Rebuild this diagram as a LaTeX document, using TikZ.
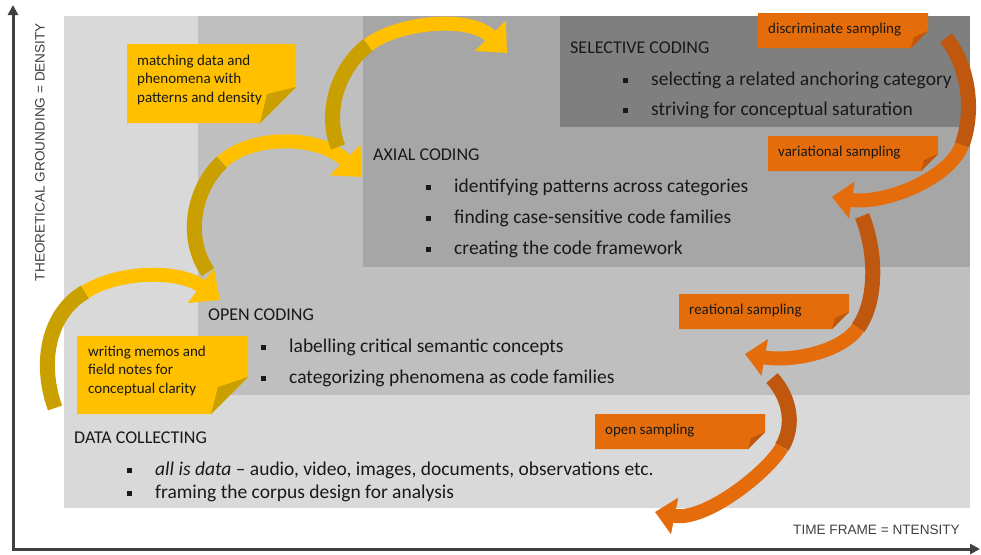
\documentclass[tikz,border=0pt]{standalone}
\usepackage{fontspec}
\setmainfont{Carlito}
\newfontfamily\axisfont{Liberation Sans}
\usepackage{xcolor}
\usepackage{tikz}
\usetikzlibrary{arrows.meta,positioning}

\definecolor{datagray}{HTML}{D9D9D9}
\definecolor{opengray}{HTML}{BFBFBF}
\definecolor{axialgray}{HTML}{A6A6A6}
\definecolor{selgray}{HTML}{7F7F7F}
\definecolor{axisgray}{HTML}{404040}
\definecolor{noteyellow}{HTML}{FFC000}
\definecolor{darkyellow}{HTML}{C9A000}
\definecolor{noteorange}{HTML}{E46C0A}
\definecolor{darkorange}{HTML}{BF570E}

\newcommand{\sqb}{\rule[2pt]{5pt}{5pt}\hspace{23pt}}
\newcommand{\samplenote}[4]{%
	\begin{scope}[shift={(#2,#3)}]
		\fill[noteorange] (0,0) -- (170,0) -- (170,18) -- (153,35) -- (0,35) -- cycle;
		\fill[darkorange] (170,18) -- (156,24) -- (153,35) -- cycle;
		\node[onote] (#1) at (10,20) {#4};
	\end{scope}}

\begin{document}
\begin{tikzpicture}[x=1pt,y=-1pt]
				\tikzstyle{phasehead}=[anchor=base west, inner sep=0pt, text=black!90, font=\fontsize{18}{22}\selectfont]
				\tikzstyle{phaseitem}=[phasehead, font=\fontsize{19.5}{23}\selectfont]
				\tikzstyle{ynote}=[anchor=north west, inner sep=0pt, align=left, text=black!90, font=\fontsize{15}{18.3}\selectfont]
				\tikzstyle{onote}=[anchor=base west, inner sep=0pt, text=black!90, font=\fontsize{15}{18}\selectfont]
				\tikzstyle{axisline}=[axisgray, line width=3pt, {Triangle[width=10pt,length=10pt]}-{Triangle[width=10pt,length=10pt]}]
				\tikzstyle{axislabel}=[inner sep=0pt, text=axisgray, font=\axisfont\fontsize{13.6}{16}\selectfont]
				\tikzstyle{ytail}=[darkyellow, line width=15pt]
				\tikzstyle{yarrow}=[noteyellow, line width=14pt, -{Triangle[width=42pt,length=24pt]}]
				\tikzstyle{otail}=[darkorange, line width=15pt]
				\tikzstyle{oarrow}=[noteorange, line width=14pt, -{Triangle[width=36pt,length=20pt]}]
				\useasboundingbox (0,0) rectangle (981,554);
				% coding levels
				\fill[datagray] (64,16) rectangle (970,508);
				\fill[opengray] (198,16) rectangle (970,395);
				\fill[axialgray] (363,16) rectangle (970,267);
				\fill[selgray] (560,16) rectangle (970,127);
				% axes
				\coordinate (ytop) at (13,5);
				\coordinate (origin) at (13,549);
				\coordinate (xend) at (980,549);
				\draw[axisline] (ytop) -- (origin) -- (xend);
				\node[axislabel, rotate=90] (ylabel) at (40,152) {THEORETICAL GROUNDING = DENSITY};
				\node[axislabel, anchor=base east] (xlabel) at (960,534) {TIME FRAME = NTENSITY};
				% texts
				\node[phasehead] (selective) at (570,53) {SELECTIVE CODING};
				\node[phaseitem] (sel1) at (623,85) {\sqb selecting a related anchoring category};
				\node[phaseitem] (sel2) at (623,115) {\sqb striving for conceptual saturation};
				\node[phasehead] (axial) at (373,160) {AXIAL CODING};
				\node[phaseitem] (ax1) at (426,192) {\sqb identifying patterns across categories};
				\node[phaseitem] (ax2) at (426,223) {\sqb finding case-sensitive code families};
				\node[phaseitem] (ax3) at (426,254) {\sqb creating the code framework};
				\node[phasehead] (opencoding) at (208,320) {OPEN CODING};
				\node[phaseitem] (op1) at (261,352) {\sqb labelling critical semantic concepts};
				\node[phaseitem] (op2) at (261,383) {\sqb categorizing phenomena as code families};
				\node[phasehead] (collecting) at (74,443) {DATA COLLECTING};
				\node[phaseitem] (col1) at (127,475) {\sqb \textit{all is data} -- audio, video, images, documents, observations etc.};
				\node[phaseitem] (col2) at (127,498) {\sqb framing the corpus design for analysis};
				% yellow arrows
				\coordinate (ya0) at (55,408);
				\coordinate (ya1) at (85,292);
				\coordinate (ya2) at (220,300);
				\draw[ytail] (ya0) .. controls (38,360) and (50,312) .. (ya1);
				\draw[yarrow] (ya1) .. controls (120,270) and (180,270) .. (ya2);
				\coordinate (yb0) at (208,272);
				\coordinate (yb1) at (222,162);
				\coordinate (yb2) at (362,177);
				\draw[ytail] (yb0) .. controls (185,240) and (192,190) .. (yb1);
				\draw[yarrow] (yb1) .. controls (252,134) and (320,135) .. (yb2);
				\coordinate (yc0) at (338,147);
				\coordinate (yc1) at (368,45);
				\coordinate (yc2) at (507,53);
				\draw[ytail] (yc0) .. controls (324,112) and (338,68) .. (yc1);
				\draw[yarrow] (yc1) .. controls (398,22) and (470,15) .. (yc2);
				% orange arrows
				\coordinate (od0) at (946,38);
				\coordinate (od1) at (962,145);
				\coordinate (od2) at (832,197);
				\draw[otail] (od0) .. controls (968,65) and (975,110) .. (od1);
				\draw[oarrow] (od1) .. controls (950,178) and (885,205) .. (od2);
				\coordinate (oe0) at (862,216);
				\coordinate (oe1) at (858,328);
				\coordinate (oe2) at (745,354);
				\draw[otail] (oe0) .. controls (876,250) and (878,300) .. (oe1);
				\draw[oarrow] (oe1) .. controls (840,353) and (790,362) .. (oe2);
				\coordinate (of0) at (772,378);
				\coordinate (of1) at (782,447);
				\coordinate (of2) at (655,512);
				\draw[otail] (of0) .. controls (790,398) and (795,425) .. (of1);
				\draw[oarrow] (of1) .. controls (768,472) and (705,522) .. (of2);
				% yellow notes
				\fill[noteyellow] (127,44) -- (296,44) -- (296,87) -- (260,123) -- (127,123) -- cycle;
				\fill[darkyellow] (296,87) -- (267,94) -- (260,123) -- cycle;
				\node[ynote] (matching) at (137,55) {matching data and\\phenomena with\\patterns and density};
				\fill[noteyellow] (77,336) -- (248,336) -- (248,377) -- (211,414) -- (77,414) -- cycle;
				\fill[darkyellow] (248,377) -- (218,387) -- (211,414) -- cycle;
				\node[ynote] (memos) at (88,346) {writing memos and\\field notes for\\conceptual clarity};
				% sampling notes
				\samplenote{discriminate}{758}{13}{discriminate sampling}
				\samplenote{variational}{768}{136}{variational sampling}
				\samplenote{relational}{679}{294}{reational sampling}
				\samplenote{opensampling}{595}{414}{open sampling}
			\end{tikzpicture}
\end{document}
